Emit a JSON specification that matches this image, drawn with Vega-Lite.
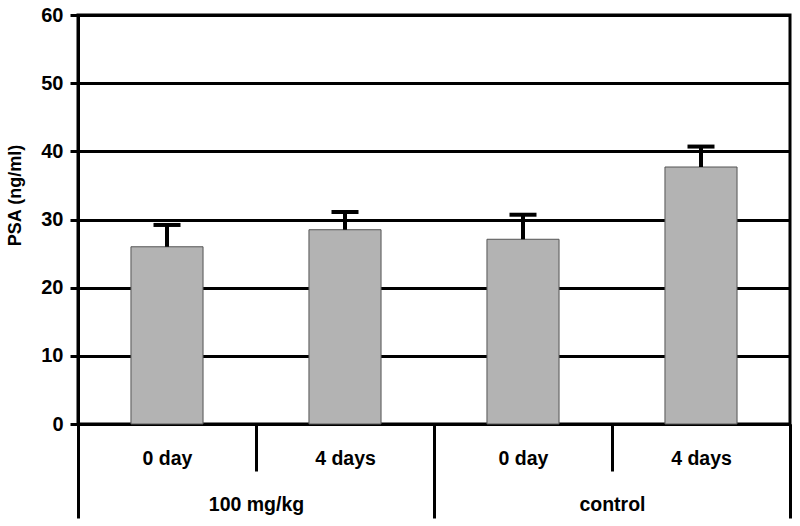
{
  "$schema": "https://vega.github.io/schema/vega-lite/v6.json",
  "autosize": "none",
  "width": 712,
  "height": 409,
  "padding": {"left": 78, "top": 15, "right": 10, "bottom": 102},
  "config": {
    "font": "Liberation Sans",
    "view": {"stroke": "black", "strokeWidth": 3},
    "axis": {
      "labelFont": "Liberation Sans", "titleFont": "Liberation Sans",
      "labelFontSize": 19.5, "labelFontWeight": "bold", "labelColor": "black",
      "titleFontSize": 18, "titleFontWeight": "bold", "titleColor": "black",
      "tickColor": "black", "tickWidth": 3, "domainColor": "black", "domainWidth": 3
    },
    "axisY": {"labelFontSize": 20}
  },
  "data": {
    "values": [
      {"group": "100 mg/kg", "day": "0 day", "cell": "100 mg/kg|0 day", "psa": 26.0, "upper": 29.2},
      {"group": "100 mg/kg", "day": "4 days", "cell": "100 mg/kg|4 days", "psa": 28.5, "upper": 31.1},
      {"group": "control", "day": "0 day", "cell": "control|0 day", "psa": 27.1, "upper": 30.7},
      {"group": "control", "day": "4 days", "cell": "control|4 days", "psa": 37.7, "upper": 40.7}
    ]
  },
  "layer": [
    {
      "layer": [
        {
          "mark": {"type": "bar", "width": {"band": 0.405}, "color": "#b3b3b3", "stroke": "#555555", "strokeWidth": 1},
          "encoding": {
            "x": {
              "field": "cell", "type": "nominal", "sort": null,
              "scale": {"paddingInner": 0, "paddingOuter": 0},
              "axis": {
                "orient": "bottom",
                "title": null, "labelAngle": 0, "tickBand": "extent",
                "labelExpr": "split(datum.value, '|')[1]",
                "labelPadding": -13, "labelBaseline": "middle",
                "tickSize": 47, "domain": true
              }
            },
            "y": {
              "field": "psa", "type": "quantitative",
              "scale": {"domain": [0, 60], "nice": false},
              "axis": {
                "title": "PSA (ng/ml)", "titlePadding": 16, "titleY": 180,
                "values": [0, 10, 20, 30, 40, 50, 60],
                "labelPadding": 7, "tickSize": 8,
                "grid": true, "gridColor": "black", "gridWidth": 3, "gridOpacity": 1
              }
            }
          }
        },
        {
          "mark": {"type": "rule", "color": "black", "strokeWidth": 4},
          "encoding": {
            "x": {"field": "cell", "type": "nominal", "sort": null},
            "y": {"field": "psa", "type": "quantitative"},
            "y2": {"field": "upper"}
          }
        },
        {
          "mark": {"type": "tick", "orient": "horizontal", "color": "black", "size": 27, "thickness": 4, "opacity": 1},
          "encoding": {
            "x": {"field": "cell", "type": "nominal", "sort": null},
            "y": {"field": "upper", "type": "quantitative"}
          }
        }
      ]
    },
    {
      "mark": {"type": "text", "opacity": 0},
      "encoding": {
        "x": {
          "field": "group", "type": "nominal", "sort": null,
          "scale": {"paddingInner": 0, "paddingOuter": 0},
          "axis": {
            "orient": "bottom",
            "title": null, "labelAngle": 0, "tickBand": "extent",
            "labelPadding": -14, "labelBaseline": "middle",
            "tickSize": 94, "domain": false, "grid": false
          }
        },
        "text": {"value": ""}
      }
    }
  ],
  "resolve": {"scale": {"x": "independent"}, "axis": {"x": "independent"}}
}
